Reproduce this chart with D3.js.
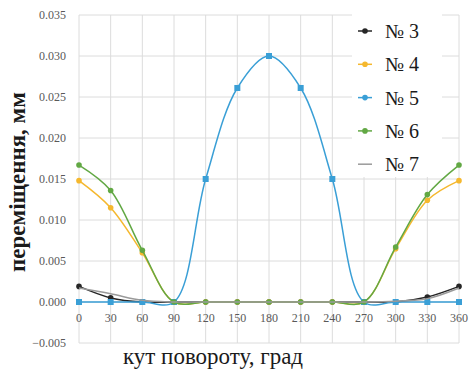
<!DOCTYPE html>
<html>
<head>
<meta charset="utf-8">
<script src="https://cdn.jsdelivr.net/npm/d3@7"></script>
<style>
  body { margin: 0; background: #fff; }
</style>
</head>
<body>
<div id="chart"></div>
<script>
// кут повороту, град
const angles = [0, 30, 60, 90, 120, 150, 180, 210, 240, 270, 300, 330, 360];
const yTicks = [-0.005, 0, 0.005, 0.010, 0.015, 0.020, 0.025, 0.030, 0.035];

// переміщення, мм
const s3 = [0.0019, 0.0005, 0, 0, 0, 0, 0, 0, 0, 0, 0, 0.0006, 0.0019];
const s4 = [0.0148, 0.0115, 0.0060, 0, 0, 0, 0, 0, 0, 0, 0.0065, 0.0124, 0.0148];
const s5 = [0, 0, 0, 0, 0.0150, 0.0261, 0.0300, 0.0261, 0.0150, 0, 0, 0, 0];
const s6 = [0.0167, 0.0136, 0.0063, 0, 0, 0, 0, 0, 0, 0, 0.0067, 0.0131, 0.0167];
const s7 = [0.0017, 0.0010, 0.0002, 0, 0, 0, 0, 0, 0, 0, 0.0001, 0.0004, 0.0017];

const seriesNames = ["№ 3", "№ 4", "№ 5", "№ 6", "№ 7"];
const seriesValues = [s3, s4, s5, s6, s7];
const seriesColors = ["#262626", "#f5b82e", "#3a9fd6", "#62a844", "#9a9a9a"];
const seriesMarkers = ["circle", "circle", "square", "circle", "none"];

const width = 470, height = 371;
const serif = "Liberation Serif, DejaVu Serif, serif";

const svg = d3.select("#chart")
    .append("svg")
    .attr("width", width)
    .attr("height", height)
    .attr("font-family", serif);

const x = d3.scaleLinear().domain([0, 360]).range([79, 459]);
const y = d3.scaleLinear().domain([-0.005, 0.035]).range([343, 15]);

// grid
svg.append("g")
    .selectAll("line")
    .data(yTicks)
    .join("line")
    .attr("x1", x(0)).attr("x2", x(360))
    .attr("y1", d => y(d)).attr("y2", d => y(d))
    .attr("stroke", "#dcdcdc").attr("stroke-width", 1);

svg.append("g")
    .selectAll("line")
    .data(angles)
    .join("line")
    .attr("x1", d => x(d)).attr("x2", d => x(d))
    .attr("y1", y(0.035)).attr("y2", y(-0.005))
    .attr("stroke", "#dcdcdc").attr("stroke-width", 1);

// y tick labels
svg.append("g")
    .selectAll("text")
    .data(yTicks)
    .join("text")
    .attr("x", 66)
    .attr("y", d => y(d))
    .attr("dy", "0.35em")
    .attr("text-anchor", "end")
    .attr("font-family", serif)
    .attr("font-size", 12)
    .attr("fill", "#595959")
    .text(d => d3.format(".3f")(d));

// x tick labels (sit under the zero line)
svg.append("g")
    .selectAll("text")
    .data(angles)
    .join("text")
    .attr("x", d => x(d))
    .attr("y", y(0) + 16)
    .attr("dy", "0.35em")
    .attr("text-anchor", "middle")
    .attr("font-family", serif)
    .attr("font-size", 12)
    .attr("fill", "#595959")
    .text(d => d);

// lines
const line = d3.line()
    .x((d, i) => x(angles[i]))
    .y(d => y(d))
    .curve(d3.curveCatmullRom.alpha(0.5));

seriesValues.forEach((vals, k) => {
    const g = svg.append("g");
    g.append("path")
        .datum(vals)
        .attr("d", line)
        .attr("fill", "none")
        .attr("stroke", seriesColors[k])
        .attr("stroke-width", 1.5);
    if (seriesMarkers[k] === "circle") {
        g.selectAll("circle")
            .data(vals)
            .join("circle")
            .attr("cx", (d, i) => x(angles[i]))
            .attr("cy", d => y(d))
            .attr("r", 2.8)
            .attr("fill", seriesColors[k]);
    } else if (seriesMarkers[k] === "square") {
        g.selectAll("rect")
            .data(vals)
            .join("rect")
            .attr("x", (d, i) => x(angles[i]) - 3)
            .attr("y", d => y(d) - 3)
            .attr("width", 6).attr("height", 6)
            .attr("fill", seriesColors[k]);
    }
});

// legend
const legend = svg.append("g");
legend.append("rect")
    .attr("x", 352).attr("y", 11)
    .attr("width", 90).attr("height", 166)
    .attr("fill", "#fff");

const leg = legend.selectAll("g")
    .data(seriesNames)
    .join("g")
    .attr("transform", (d, i) => "translate(0," + (31 + i * 33.3) + ")");

leg.append("line")
    .attr("x1", 358).attr("x2", 372)
    .attr("stroke", (d, i) => seriesColors[i])
    .attr("stroke-width", 1.5);
leg.filter((d, i) => seriesMarkers[i] !== "none")
    .append("circle")
    .attr("cx", 365).attr("r", 2.8)
    .attr("fill", d => seriesColors[seriesNames.indexOf(d)]);
leg.append("text")
    .attr("x", 385)
    .attr("dy", "0.35em")
    .attr("font-family", serif)
    .attr("font-size", 20)
    .attr("fill", "#1a1a1a")
    .text(d => d);

// axis titles
svg.append("text")
    .attr("transform", "translate(25,182) rotate(-90)")
    .attr("text-anchor", "middle")
    .attr("font-family", serif)
    .attr("font-size", 23)
    .attr("font-weight", "bold")
    .attr("fill", "#1a1a1a")
    .text("переміщення, мм");

svg.append("text")
    .attr("x", 213)
    .attr("y", 364)
    .attr("text-anchor", "middle")
    .attr("font-family", serif)
    .attr("font-size", 23)
    .attr("fill", "#1a1a1a")
    .text("кут повороту, град");
</script>
</body>
</html>
